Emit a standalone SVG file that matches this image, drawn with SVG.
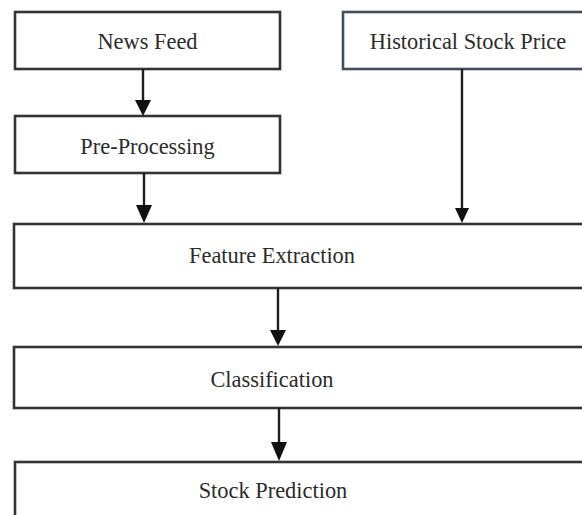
<svg xmlns="http://www.w3.org/2000/svg" width="582" height="515" viewBox="0 0 582 515">
<defs>
<style>
.box{fill:#fff;stroke:#333;stroke-width:2.6}
.blue{stroke:#454c5c}
.lbl{font-size:22.4px;fill:#2b2b2b;text-anchor:middle}
.con{stroke:#1e1e1e;stroke-width:2.4;fill:none}
.head{fill:#111}
</style>
</defs>
<rect width="582" height="515" fill="#fff"/>
<g font-family="Liberation Serif, Times New Roman, DejaVu Serif, serif">
<g id="news-feed"><rect class="box" x="15" y="12" width="265" height="57"/><text class="lbl" x="147.5" y="49">News Feed</text></g>
<g id="historical-stock-price"><rect class="box blue" x="343" y="12" width="250" height="57"/><text class="lbl" x="468" y="49">Historical Stock Price</text></g>
<g id="pre-processing"><rect class="box" x="15" y="116" width="265" height="57"/><text class="lbl" x="147.5" y="154">Pre-Processing</text></g>
<g id="feature-extraction"><rect class="box" x="14" y="224" width="580" height="64"/><text class="lbl" x="272" y="263">Feature Extraction</text></g>
<g id="classification"><rect class="box" x="14" y="347" width="580" height="61"/><text class="lbl" x="272" y="387">Classification</text></g>
<g id="stock-prediction"><rect class="box" x="15" y="462" width="580" height="70"/><text class="lbl" x="273" y="498">Stock Prediction</text></g>
</g>
<g id="connectors">
<line class="con" x1="143" y1="69" x2="143" y2="101"/><polygon class="head" points="135,100 151,100 143,116"/>
<line class="con" x1="144" y1="173" x2="144" y2="206"/><polygon class="head" points="136,205 152,205 144,223"/>
<line class="con" x1="462" y1="69" x2="462" y2="209"/><polygon class="head" points="455,208 469,208 462,223"/>
<line class="con" x1="278" y1="288" x2="278" y2="331"/><polygon class="head" points="270,330 286,330 278,346"/>
<line class="con" x1="279" y1="408" x2="279" y2="443"/><polygon class="head" points="271,442 287,442 279,461"/>
</g>
</svg>
